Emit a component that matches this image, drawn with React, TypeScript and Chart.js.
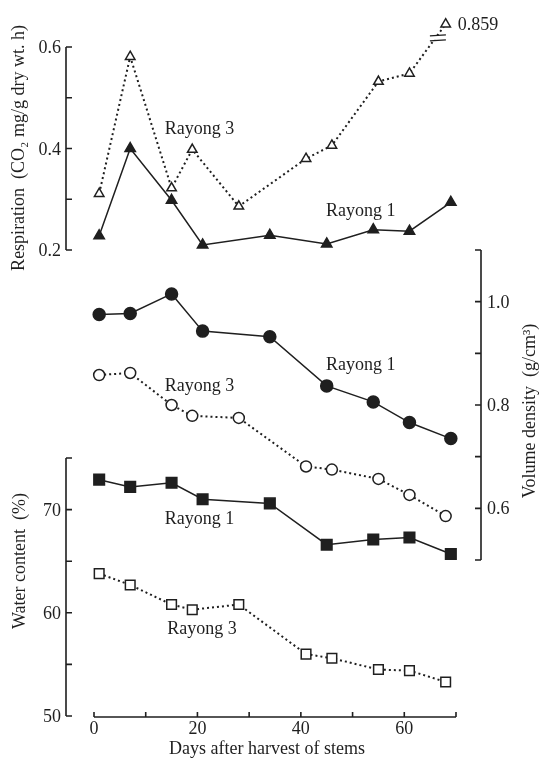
import React, { useEffect, useRef } from 'react';
import { Chart, registerables } from 'chart.js';

Chart.register(...registerables);

// ---------------- data ----------------
const daysRayong1 = [1, 7, 15, 21, 34, 45, 54, 61, 69];
const daysRayong3 = [1, 7, 15, 19, 28, 41, 46, 55, 61, 68];

const respirationRayong1 = [0.228, 0.4, 0.298, 0.21, 0.229, 0.212, 0.24, 0.237, 0.294];
const respirationRayong3 = [0.311, 0.581, 0.322, 0.398, 0.286, 0.38, 0.406, 0.532, 0.548, 0.859];

const densityRayong1 = [0.975, 0.977, 1.015, 0.943, 0.932, 0.837, 0.806, 0.766, 0.735];
const densityRayong3 = [0.858, 0.862, 0.8, 0.779, 0.775, 0.681, 0.675, 0.657, 0.626, 0.585];

const waterRayong1 = [72.9, 72.2, 72.6, 71.0, 70.6, 66.6, 67.1, 67.3, 65.7];
const waterRayong3 = [63.8, 62.7, 60.8, 60.3, 60.8, 56.0, 55.6, 54.5, 54.4, 53.3];

const respTicks = [0.2, 0.3, 0.4, 0.5, 0.6];
const respTickLabels = ['0.2', '', '0.4', '', '0.6'];
const densityTicks = [0.5, 0.6, 0.7, 0.8, 0.9, 1.0, 1.1];
const densityTickLabels = ['', '0.6', '', '0.8', '', '1.0', ''];
const waterTicks = [50, 55, 60, 65, 70, 75];
const waterTickLabels = ['50', '', '60', '', '70', ''];
const dayTicks = [0, 10, 20, 30, 40, 50, 60, 70];
const dayTickLabels = ['0', '', '20', '', '40', '', '60', ''];

const respAxisTop = 0.6; // values above this are drawn beyond the axis break
const respBreakPlotValue = 0.645;
const respBreakMark = { day: 66.5, value: 0.618 };

const seriesLabels = [
  { text: 'Rayong 3', day: 20.4, value: 0.437, axis: 'yR' },
  { text: 'Rayong 1', day: 51.6, value: 0.277, axis: 'yR' },
  { text: 'Rayong 1', day: 51.6, value: 0.877, axis: 'yV' },
  { text: 'Rayong 3', day: 20.4, value: 0.836, axis: 'yV' },
  { text: 'Rayong 1', day: 20.4, value: 69.1, axis: 'yW' },
  { text: 'Rayong 3', day: 20.9, value: 58.4, axis: 'yW' },
];

// ---------------- layout ----------------
const CANVAS_W = 542;
const CANVAS_H = 759;
const AREA = { left: 94, right: 456, top: 20, bottom: 717 };
const LEFT_AXIS_X = 66;
const RIGHT_AXIS_X = 481;
const TICK_LEN = 6;
const PANELS: Record<string, { lo: number; hi: number; pxLo: number; pxHi: number }> = {
  yR: { lo: 0.2, hi: 0.6, pxLo: 250, pxHi: 47 },
  yV: { lo: 0.5, hi: 1.1, pxLo: 560, pxHi: 250 },
  yW: { lo: 50, hi: 75, pxLo: 716, pxHi: 458 },
};
const FONT = '"Liberation Serif", "Times New Roman", serif';
const INK = '#1f1f1f';

function extent(id: string) {
  const p = PANELS[id];
  const perPx = (p.hi - p.lo) / (p.pxLo - p.pxHi);
  return {
    min: p.lo - (AREA.bottom - p.pxLo) * perPx,
    max: p.hi + (p.pxHi - AREA.top) * perPx,
  };
}

function series(
  label: string,
  xs: number[],
  ys: number[],
  axis: string,
  filled: boolean,
  style: string,
  radius: number,
  dotted: boolean
) {
  return {
    label,
    data: xs.map((x, i) => ({ x, y: ys[i] })),
    yAxisID: axis,
    borderColor: INK,
    backgroundColor: filled ? INK : '#ffffff',
    pointStyle: style,
    pointRadius: radius,
    pointBorderWidth: 1.5,
    pointBorderColor: INK,
    pointBackgroundColor: filled ? INK : '#ffffff',
    borderWidth: dotted ? 2 : 1.5,
    borderDash: dotted ? [2, 3] : [],
    tension: 0,
    clip: false as any,
  };
}

const axesPlugin = {
  id: 'paperAxes',
  beforeDatasetsDraw(chart: any) {
    const ctx = chart.ctx as CanvasRenderingContext2D;
    const sx = chart.scales.x;
    ctx.save();
    ctx.strokeStyle = INK;
    ctx.fillStyle = INK;
    ctx.lineWidth = 1.6;
    ctx.font = `18px ${FONT}`;

    const vAxis = (scale: any, ax: number, side: 'left' | 'right', ticks: number[], labels: string[]) => {
      const yTop = scale.getPixelForValue(ticks[ticks.length - 1]);
      const yBot = scale.getPixelForValue(ticks[0]);
      ctx.beginPath();
      ctx.moveTo(ax, yTop);
      ctx.lineTo(ax, yBot);
      const dir = side === 'left' ? 1 : -1;
      ticks.forEach((t) => {
        const y = scale.getPixelForValue(t);
        ctx.moveTo(ax, y);
        ctx.lineTo(ax + dir * TICK_LEN, y);
      });
      ctx.stroke();
      ctx.textBaseline = 'alphabetic';
      ctx.textAlign = side === 'left' ? 'right' : 'left';
      ticks.forEach((t, i) => {
        if (!labels[i]) return;
        const y = scale.getPixelForValue(t);
        ctx.fillText(labels[i], side === 'left' ? ax - 5 : ax + 6, y + 6);
      });
    };

    vAxis(chart.scales.yR, LEFT_AXIS_X, 'left', respTicks, respTickLabels);
    vAxis(chart.scales.yW, LEFT_AXIS_X, 'left', waterTicks, waterTickLabels);
    vAxis(chart.scales.yV, RIGHT_AXIS_X, 'right', densityTicks, densityTickLabels);

    // x axis
    const y0 = AREA.bottom;
    ctx.beginPath();
    ctx.moveTo(sx.getPixelForValue(dayTicks[0]), y0);
    ctx.lineTo(sx.getPixelForValue(dayTicks[dayTicks.length - 1]), y0);
    dayTicks.forEach((d) => {
      const x = sx.getPixelForValue(d);
      ctx.moveTo(x, y0);
      ctx.lineTo(x, y0 - 5);
    });
    ctx.stroke();
    ctx.textAlign = 'center';
    dayTicks.forEach((d, i) => {
      if (!dayTickLabels[i]) return;
      ctx.fillText(dayTickLabels[i], sx.getPixelForValue(d), 734);
    });
    ctx.fillText('Days after harvest of stems', (AREA.left + AREA.right) / 2 - 8, 754);

    // axis titles (rotated)
    const vTitle = (text: string, x: number, y: number) => {
      ctx.save();
      ctx.translate(x, y);
      ctx.rotate(-Math.PI / 2);
      ctx.textAlign = 'center';
      ctx.textBaseline = 'alphabetic';
      ctx.fillText(text, 0, 0);
      ctx.restore();
    };
    vTitle('Respiration  (CO\u2082 mg/g dry wt. h)', 24, 148);
    vTitle('Water content  (%)', 25, 561);
    vTitle('Volume density  (g/cm\u00B3)', 535, 411);
    ctx.restore();
  },
  afterDatasetsDraw(chart: any) {
    const ctx = chart.ctx as CanvasRenderingContext2D;
    const sx = chart.scales.x;
    ctx.save();
    ctx.fillStyle = INK;
    ctx.strokeStyle = INK;
    ctx.font = `18px ${FONT}`;
    ctx.textAlign = 'center';
    ctx.textBaseline = 'middle';
    seriesLabels.forEach((l) => {
      ctx.fillText(l.text, sx.getPixelForValue(l.day), chart.scales[l.axis].getPixelForValue(l.value));
    });

    // axis-break mark on the Rayong 3 respiration line
    const bx = sx.getPixelForValue(respBreakMark.day);
    const by = chart.scales.yR.getPixelForValue(respBreakMark.value);
    ctx.fillStyle = '#ffffff';
    ctx.fillRect(bx - 8, by - 2, 16, 4);
    ctx.lineWidth = 1.4;
    ctx.beginPath();
    ctx.moveTo(bx - 8, by - 2);
    ctx.lineTo(bx + 8, by - 3);
    ctx.moveTo(bx - 8, by + 3);
    ctx.lineTo(bx + 8, by + 2);
    ctx.stroke();

    // value label of the off-scale point (its true value)
    const lastIdx = respirationRayong3.length - 1;
    const px = sx.getPixelForValue(daysRayong3[lastIdx]);
    const py = chart.scales.yR.getPixelForValue(respBreakPlotValue);
    ctx.fillStyle = INK;
    ctx.textAlign = 'left';
    ctx.textBaseline = 'alphabetic';
    ctx.fillText(respirationRayong3[lastIdx].toFixed(3), px + 12, py + 6);
    ctx.restore();
  },
};

export default function App() {
  const canvasRef = useRef<HTMLCanvasElement | null>(null);

  useEffect(() => {
    if (!canvasRef.current) return;
    const respirationRayong3Plotted = respirationRayong3.map((v) => (v > respAxisTop ? respBreakPlotValue : v));
    const chart = new Chart(canvasRef.current, {
      type: 'line',
      data: {
        datasets: [
          series('Respiration Rayong 1', daysRayong1, respirationRayong1, 'yR', true, 'triangle', 6, false),
          series('Respiration Rayong 3', daysRayong3, respirationRayong3Plotted, 'yR', false, 'triangle', 5.5, true),
          series('Volume density Rayong 1', daysRayong1, densityRayong1, 'yV', true, 'circle', 6, false),
          series('Volume density Rayong 3', daysRayong3, densityRayong3, 'yV', false, 'circle', 5.5, true),
          series('Water content Rayong 1', daysRayong1, waterRayong1, 'yW', true, 'rect', 7.5, false),
          series('Water content Rayong 3', daysRayong3, waterRayong3, 'yW', false, 'rect', 6.8, true),
        ] as any,
      },
      options: {
        responsive: false,
        animation: false,
        devicePixelRatio: 1,
        layout: {
          padding: {
            left: AREA.left,
            right: CANVAS_W - AREA.right,
            top: AREA.top,
            bottom: CANVAS_H - AREA.bottom,
          },
        },
        plugins: { legend: { display: false }, tooltip: { enabled: false } },
        scales: {
          x: { type: 'linear', min: dayTicks[0], max: dayTicks[dayTicks.length - 1], display: false },
          yR: { type: 'linear', position: 'left', ...extent('yR'), display: false },
          yV: { type: 'linear', position: 'right', ...extent('yV'), display: false },
          yW: { type: 'linear', position: 'left', ...extent('yW'), display: false },
        },
      },
      plugins: [axesPlugin],
    });
    return () => chart.destroy();
  }, []);

  return (
    <div style={{ position: 'fixed', left: 0, top: 0, width: CANVAS_W, height: CANVAS_H, background: '#ffffff' }}>
      <canvas ref={canvasRef} width={CANVAS_W} height={CANVAS_H} style={{ display: 'block' }} />
    </div>
  );
}
